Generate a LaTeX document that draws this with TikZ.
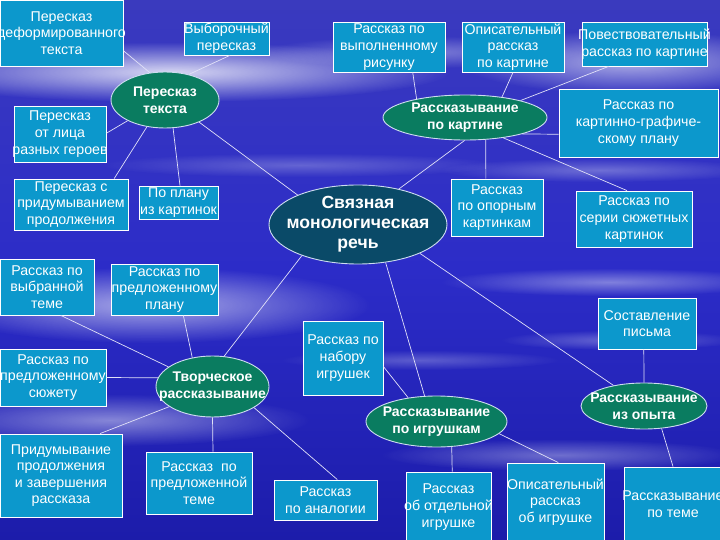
\documentclass[tikz,border=0pt]{standalone}
\usepackage{fontspec}
\setmainfont{Liberation Sans}
\usetikzlibrary{shapes.geometric,fadings}
\definecolor{boxcol}{RGB}{12,152,204}
\definecolor{ellgreen}{RGB}{10,124,96}
\definecolor{elldark}{RGB}{10,74,104}
\definecolor{ellline}{RGB}{205,220,240}
\definecolor{linecol}{RGB}{225,225,248}
\definecolor{bgtop}{RGB}{58,58,190}
\definecolor{bgmid}{RGB}{44,44,200}
\definecolor{bgbot}{RGB}{28,28,170}
\tikzfading[name=softglow, inner color=transparent!0, outer color=transparent!100]
\begin{document}
\begin{tikzpicture}[x=1pt,y=-1pt,
  box/.style={rectangle, draw=white, line width=0.9pt, fill=boxcol, inner sep=0pt},
  boxtxt/.style={text=white, align=center, inner sep=0pt, font=\fontsize{14.2}{16.6}\selectfont},
  ell/.style={ellipse, draw=ellline, line width=0.9pt, fill=ellgreen, inner sep=0pt},
  elltxt/.style={text=white, align=center, inner sep=0pt, font=\bfseries\fontsize{14}{16.6}\selectfont},
  bigtxt/.style={text=white, align=center, inner sep=0pt, font=\bfseries\fontsize{17.6}{20}\selectfont},
  link/.style={draw=linecol, line width=0.7pt},
  glow/.style={fill=white, path fading=softglow}]
\useasboundingbox (0,0) rectangle (720,540);
% background
\shade[top color=bgtop, bottom color=bgbot, middle color=bgmid] (0,0) rectangle (720,540);
\begin{scope}
\clip (0,0) rectangle (720,540);
\fill[glow, fill opacity=0.8] (170,72) ellipse [x radius=280, y radius=30];
\fill[glow, fill opacity=0.6] (630,62) ellipse [x radius=170, y radius=32];
\fill[glow, fill opacity=0.35] (420,52) ellipse [x radius=160, y radius=16];
\fill[glow, fill opacity=0.25] (300,165) ellipse [x radius=200, y radius=12];
\fill[glow, fill opacity=0.6] (150,305) ellipse [x radius=220, y radius=38];
\fill[glow, fill opacity=0.45] (110,420) ellipse [x radius=200, y radius=26];
\fill[glow, fill opacity=0.40] (610,282) ellipse [x radius=170, y radius=14];
\fill[glow, fill opacity=0.30] (620,340) ellipse [x radius=120, y radius=10];
\fill[glow, fill opacity=0.30] (600,170) ellipse [x radius=160, y radius=12];
\fill[glow, fill opacity=0.35] (560,455) ellipse [x radius=180, y radius=16];
\fill[glow, fill opacity=0.25] (420,360) ellipse [x radius=140, y radius=10];
\end{scope}
% nodes
\node[box, minimum width=123pt, minimum height=66pt, label={[boxtxt]center:Пересказ\\деформированного\\текста}] (b1) at (61.5,33) {};
\node[box, minimum width=85pt, minimum height=33pt, label={[boxtxt]center:Выборочный\\пересказ}] (b2) at (226.5,38.5) {};
\node[ell, minimum width=108pt, minimum height=56pt, label={[elltxt]center:Пересказ\\текста}] (e1) at (165,100) {};
\node[box, minimum width=92pt, minimum height=56pt, label={[boxtxt]center:Пересказ\\от лица\\разных героев}] (b4) at (60,134) {};
\node[box, minimum width=114pt, minimum height=51pt, label={[boxtxt]center:Пересказ с\\придумыванием\\продолжения}] (b5) at (71,204.5) {};
\node[box, minimum width=79pt, minimum height=33pt, label={[boxtxt]center:По плану\\из картинок}] (b6) at (178.5,202.5) {};
\node[ell, fill=elldark, minimum width=178pt, minimum height=79pt, label={[bigtxt]center:Связная\\монологическая\\речь}] (e0) at (358,224.5) {};
\node[box, minimum width=112pt, minimum height=50pt, label={[boxtxt]center:Рассказ по\\выполненному\\рисунку}] (b7) at (389,47) {};
\node[box, minimum width=102pt, minimum height=50pt, label={[boxtxt]center:Описательный\\рассказ\\по картине}] (b8) at (513,47) {};
\node[box, minimum width=125pt, minimum height=44pt, label={[boxtxt]center:Повествовательный\\рассказ по картине}] (b9) at (644.5,44) {};
\node[ell, minimum width=164pt, minimum height=45pt, label={[elltxt]center:Рассказывание\\по картине}] (e2) at (465,117.5) {};
\node[box, minimum width=159pt, minimum height=68pt, label={[boxtxt]center:Рассказ по\\картинно-графиче-\\скому плану}] (b11) at (638.5,123) {};
\node[box, minimum width=92pt, minimum height=57pt, label={[boxtxt]center:Рассказ\\по опорным\\картинкам}] (b12) at (497,207.5) {};
\node[box, minimum width=116pt, minimum height=56pt, label={[boxtxt]center:Рассказ по\\серии сюжетных\\картинок}] (b13) at (634,219) {};
\node[box, minimum width=94pt, minimum height=56pt, label={[boxtxt]center:Рассказ по\\выбранной\\теме}] (b14) at (47,287) {};
\node[box, minimum width=107pt, minimum height=51pt, label={[boxtxt]center:Рассказ по\\предложенному\\плану}] (b15) at (164.5,289.5) {};
\node[box, minimum width=106pt, minimum height=57pt, label={[boxtxt]center:Рассказ по\\предложенному\\сюжету}] (b16) at (53,377.5) {};
\node[ell, minimum width=113pt, minimum height=61pt, label={[elltxt]center:Творческое\\рассказывание}] (e3) at (212.5,386.5) {};
\node[box, minimum width=122pt, minimum height=83pt, label={[boxtxt]center:Придумывание\\продолжения\\и завершения\\рассказа}] (b18) at (61,475.5) {};
\node[box, minimum width=106pt, minimum height=62pt, label={[boxtxt]center:Рассказ\ \ по\\предложенной\\теме}] (b19) at (199,483) {};
\node[box, minimum width=103pt, minimum height=40pt, label={[boxtxt]center:Рассказ\\по аналогии}] (b20) at (325.5,500) {};
\node[box, minimum width=80pt, minimum height=74pt, label={[boxtxt]center:Рассказ по\\набору\\игрушек}] (b21) at (343,358) {};
\node[ell, minimum width=141pt, minimum height=51pt, label={[elltxt]center:Рассказывание\\по игрушкам}] (e4) at (436.5,421.5) {};
\node[box, minimum width=85pt, minimum height=70pt, label={[boxtxt]center:Рассказ\\об отдельной\\игрушке}] (b23) at (448.5,507) {};
\node[box, minimum width=97pt, minimum height=78pt, label={[boxtxt]center:Описательный\\рассказ\\об игрушке}] (b24) at (555.5,502) {};
\node[box, minimum width=98pt, minimum height=51pt, label={[boxtxt]center:Составление\\письма}] (b25) at (647,323.5) {};
\node[ell, minimum width=126pt, minimum height=46pt, label={[elltxt]center:Рассказывание\\из опыта}] (e5) at (644,406) {};
\node[box, minimum width=98pt, minimum height=74pt, label={[boxtxt]center:Рассказывание\\по теме}] (b27) at (673,504) {};
% connectors
\draw[link] (e1.119) -- (b1.-16);
\draw[link] (e1.47) -- (b2.-79);
\draw[link] (e1.209) -- (b4.1);
\draw[link] (e1.236) -- (b5.31);
\draw[link] (e1.286) -- (b6.85);
\draw[link] (e1.327) -- (e0.154);
\draw[link] (e2.159) -- (b7.-47);
\draw[link] (e2.29) -- (b8.south);
\draw[link] (e2.17) -- (b9.212);
\draw[link] (e2.344) -- (b11.188);
\draw[link] (e2.313) -- (b12.111);
\draw[link] (e2.332) -- (b13.104);
\draw[link] (e2.269) -- (e0.41);
\draw[link] (e3.156) -- (b14.-64);
\draw[link] (e3.125) -- (b15.-54);
\draw[link] (e3.171) -- (b16.east);
\draw[link] (e3.205) -- (b18.47);
\draw[link] (e3.south) -- (b19.66);
\draw[link] (e3.333) -- (b20.60);
\draw[link] (e3.69) -- (e0.209);
\draw[link] (b21.-12) -- (e4.140);
\draw[link] (e0.306) -- (e4.115);
\draw[link] (e4.301) -- (b23.84);
\draw[link] (e4.349) -- (b24.86);
\draw[link] (e0.335) -- (e5.146);
\draw[link] (b25.263) -- (e5.north);
\draw[link] (e5.308) -- (b27.north);
\end{tikzpicture}
\end{document}
